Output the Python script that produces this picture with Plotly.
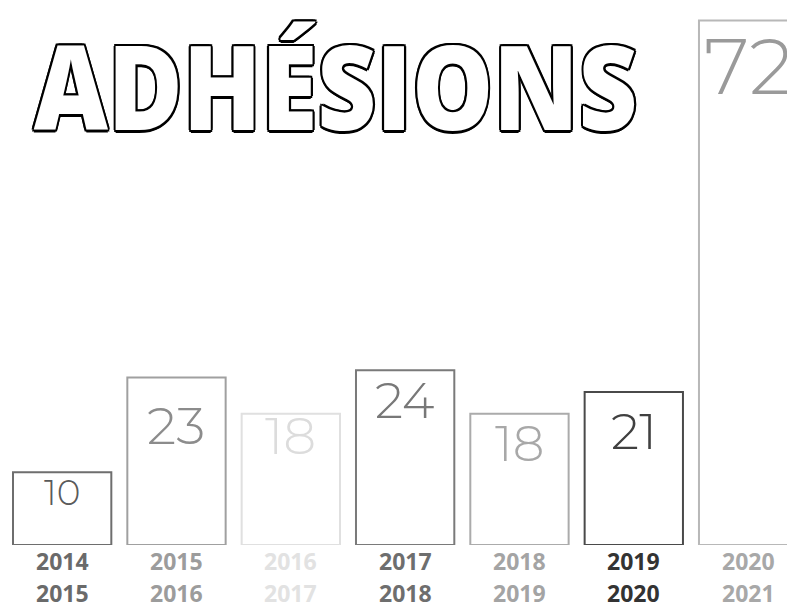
import plotly.graph_objects as go

categories = ["2014-2015", "2015-2016", "2016-2017", "2017-2018", "2018-2019", "2019-2020", "2020-2021"]
start_years = ["2014", "2015", "2016", "2017", "2018", "2019", "2020"]
end_years = ["2015", "2016", "2017", "2018", "2019", "2020", "2021"]
members = [10, 23, 18, 24, 18, 21, 72]
title_text = "ADHÉSIONS"

# styles
outline_colors = ["#6e6e6e", "#a0a0a0", "#e0e0e0", "#7a7a7a", "#ababab", "#4a4a4a", "#b8b8b8"]
number_colors = ["#5a5a5a", "#8c8c8c", "#dcdcdc", "#787878", "#a8a8a8", "#404040", "#9a9a9a"]
year_colors = ["#6a6a6a", "#9c9c9c", "#e2e2e2", "#6e6e6e", "#a4a4a4", "#333333", "#a8a8a8"]
number_sizes = [36, 52, 52, 50, 50, 50, 78]
number_offsets = [-20, -48, -22, -30, -30, -40, -46]

W, H = 787, 602
fig = go.Figure()
fig.add_trace(go.Bar(
    x=categories, y=members,
    marker=dict(color="white", line=dict(color=outline_colors, width=2)),
    width=0.86, hoverinfo="skip",
))

ann = []
for i, c in enumerate(categories):
    ann.append(dict(x=c, y=members[i], xref="x", yref="y", text=str(members[i]),
                    showarrow=False, yanchor="middle", yshift=number_offsets[i],
                    font=dict(family="Montserrat, Lato, Roboto, sans-serif", size=number_sizes[i],
                              color=number_colors[i], weight=300)))
    ann.append(dict(x=c, y=0, xref="x", yref="paper", text=start_years[i], showarrow=False,
                    yanchor="middle", yshift=-15.5,
                    font=dict(family="Open Sans", size=23, color=year_colors[i], weight=700)))
    ann.append(dict(x=c, y=0, xref="x", yref="paper", text=end_years[i], showarrow=False,
                    yanchor="middle", yshift=-47.5,
                    font=dict(family="Open Sans", size=23, color=year_colors[i], weight=700)))

outline = ", ".join(f"{dx}px {dy}px 0 #000" for dx, dy in
                    [(2.5, 0), (-2.5, 0), (0, 2.5), (0, -2.5), (1.8, 1.8), (-1.8, 1.8), (1.8, -1.8), (-1.8, -1.8)])
ann.append(dict(x=0.422, y=0.845, xref="paper", yref="paper", text=title_text, showarrow=False,
                xanchor="center", yanchor="middle",
                font=dict(family="Open Sans, sans-serif", size=117, color="white", weight=800, shadow=outline)))

fig.update_layout(
    width=W, height=H,
    margin=dict(l=5, r=0, t=0, b=57),
    paper_bgcolor="white", plot_bgcolor="white",
    showlegend=False,
    xaxis=dict(range=[-0.5, 6.34], showticklabels=False, showgrid=False, zeroline=False,
               showline=False, ticks="", fixedrange=True),
    yaxis=dict(range=[0, 74.8], visible=False, fixedrange=True),
    annotations=ann,
)

post = """
document.body.style.margin = '0';
document.body.style.overflow = 'hidden';
document.querySelectorAll('text.annotation-text').forEach(function(t){
  if (t.textContent === 'ADHÉSIONS') {
    t.setAttribute('textLength', '604');
    t.setAttribute('lengthAdjust', 'spacingAndGlyphs');
  }
});
"""
fig.write_html("out.html", post_script=post, config={"displayModeBar": False})
